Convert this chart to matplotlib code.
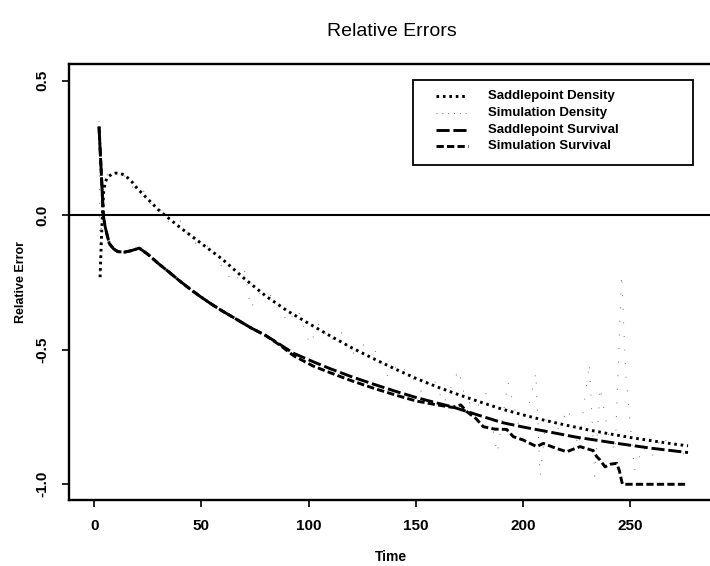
import matplotlib
matplotlib.use('Agg')
import matplotlib.pyplot as plt
from matplotlib.lines import Line2D
from matplotlib.patches import Rectangle

plt.rcParams['font.family'] = ['Liberation Sans', 'DejaVu Sans']

# Data

sp_dens_t = [2.7, 3.5, 4.3, 5, 6, 8, 10, 12, 14, 17, 20, 25, 30, 33, 40, 50, 60,
             70, 80, 90, 100, 110, 120, 130, 140, 150, 160, 170, 180, 190, 200,
             210, 220, 230, 240, 250, 260, 270, 277]
sp_dens = [-0.23, -0.05, 0.08, 0.12, 0.14, 0.152, 0.157, 0.156, 0.15, 0.13, 0.10,
           0.06, 0.02, 0.0, -0.045, -0.105, -0.165, -0.235, -0.3, -0.355, -0.402,
           -0.448, -0.492, -0.532, -0.57, -0.606, -0.638, -0.667, -0.694, -0.72,
           -0.742, -0.762, -0.78, -0.797, -0.812, -0.826, -0.838, -0.85, -0.857]

sim_dens_t = [2.2, 2.7, 3.5, 4.5, 6, 8, 10, 13, 16, 19.8, 23, 27, 31, 35, 40, 45,
              50, 55, 60, 65, 70, 73, 78, 85, 90, 95, 100.6, 105, 110, 115, 120,
              125, 132, 137, 142, 148, 153, 158, 163, 170, 173, 178, 183, 188, 193,
              198, 203, 206, 208, 211, 216, 221, 226, 231, 233.5, 236, 240, 243,
              246, 248, 252, 256, 260, 265, 270, 274, 277]
sim_dens = [0.35, -0.23, 0.05, 0.12, 0.15, 0.175, 0.15, 0.16, 0.12, 0.088, 0.09,
            0.03, 0.02, -0.03, -0.02, -0.09, -0.12, -0.11, -0.2, -0.25, -0.2,
            -0.345, -0.28, -0.31, -0.4, -0.35, -0.48, -0.4, -0.47, -0.43, -0.52,
            -0.48, -0.51, -0.6, -0.55, -0.6, -0.66, -0.6, -0.7, -0.575, -0.68,
            -0.72, -0.66, -0.885, -0.62, -0.78, -0.7, -0.585, -0.97, -0.74, -0.8,
            -0.72, -0.86, -0.55, -0.97, -0.64, -0.82, -0.88, -0.22, -0.59, -0.95,
            -0.86, -0.9, -0.82, -0.87, -0.9, -0.86]

sp_surv_t = [2.2, 3.0, 3.5, 4.2, 5, 5.8, 7, 9, 11, 14, 17, 21, 25, 30, 35, 40, 45,
             50, 55, 60, 66, 73, 80, 87, 93, 102, 110, 120, 130, 140, 150, 160,
             167, 180, 190, 200, 212, 225, 244, 260, 277]
sp_surv = [0.33, 0.2, 0.12, 0.0, -0.04, -0.067, -0.105, -0.125, -0.135, -0.137,
           -0.132, -0.122, -0.145, -0.18, -0.212, -0.245, -0.276, -0.305, -0.332,
           -0.357, -0.385, -0.418, -0.447, -0.482, -0.513, -0.544, -0.57, -0.6,
           -0.627, -0.653, -0.677, -0.698, -0.712, -0.745, -0.77, -0.787, -0.805,
           -0.825, -0.848, -0.866, -0.882]

sim_surv_t = [2.2, 3.0, 3.5, 4.2, 5, 5.8, 7, 9, 11, 14, 17, 21, 25, 30, 35, 40, 45,
              50, 55, 60, 66, 73, 80, 87, 93, 102, 110, 120, 130, 140, 150, 160,
              167, 171, 173.8, 178, 181.5, 187, 192.4, 195.5, 200, 206.4, 209.5,
              215, 220.4, 226.6, 230, 232.8, 234.4, 236, 238.3, 241, 243.8, 245,
              246.1, 246.5, 277]
sim_surv = [0.33, 0.2, 0.12, 0.0, -0.04, -0.067, -0.105, -0.125, -0.135, -0.137,
            -0.132, -0.122, -0.145, -0.18, -0.212, -0.245, -0.276, -0.305, -0.332,
            -0.357, -0.385, -0.418, -0.447, -0.485, -0.522, -0.56, -0.585, -0.615,
            -0.642, -0.667, -0.69, -0.705, -0.714, -0.705, -0.73, -0.755, -0.786,
            -0.795, -0.796, -0.823, -0.835, -0.86, -0.848, -0.865, -0.879, -0.86,
            -0.868, -0.875, -0.897, -0.91, -0.935, -0.925, -0.922, -0.95, -0.99,
            -1.0, -1.0]

labels = ['Saddlepoint Density', 'Simulation Density',
          'Saddlepoint Survival', 'Simulation Survival']

# Styles
st_sp_dens = dict(color='black', lw=2.1, ls=(0, (0.9, 1.3)))
st_sim_dens = dict(color='#6e6e6e', lw=0.7, ls=(0, (1, 13)))
st_sp_surv = dict(color='black', lw=2.1, ls=(0, (4.5, 1.3)))
st_sim_surv = dict(color='black', lw=2.1, ls=(0, (2.5, 1.1)))
styles = [st_sp_dens, dict(st_sim_dens, ls=(0, (1, 5))), st_sp_surv, st_sim_surv]

# Plot

W, H = 710, 566
fig = plt.figure(figsize=(W / 100, H / 100), dpi=100)
ax = fig.add_axes([69 / W, 66 / H, 643 / W, 436 / H])

ax.plot(sim_dens_t, sim_dens, **st_sim_dens)
ax.plot(sp_dens_t, sp_dens, **st_sp_dens)
ax.plot(sp_surv_t, sp_surv, **st_sp_surv)
ax.plot(sim_surv_t, sim_surv, **st_sim_surv)
ax.axhline(0, color='black', lw=1.5)

ax.set_xlim(-11.8, 288.2)
ax.set_ylim(-1.0584, 0.5625)
ax.set_xticks([0, 50, 100, 150, 200, 250])
ax.set_yticks([-1.0, -0.5, 0.0, 0.5])
ax.set_yticklabels(['-1.0', '-0.5', '0.0', '0.5'], rotation=90, va='center')
ax.tick_params(direction='out', length=5, width=1.2, labelsize=11, pad=9)
for lab in ax.get_xticklabels() + ax.get_yticklabels():
    lab.set_fontweight('bold')
for sp in ax.spines.values():
    sp.set_linewidth(1.7)

ax.set_xlabel('Time', fontsize=10, fontweight='bold', labelpad=12)
ax.set_ylabel('Relative Error', fontsize=9, fontweight='bold', labelpad=6)
fig.text(392 / W, 1 - 31 / H, 'Relative Errors', ha='center', va='center', fontsize=14)

# Legend box drawn in figure pixels like the R original
def fx(px):
    return px / W

def fy(py):
    return 1 - py / H

fig.add_artist(Rectangle((fx(413), fy(165)), fx(693) - fx(413), fy(80) - fy(165),
                         transform=fig.transFigure, fill=False, lw=1.3, ec='black'))
rows = [96, 113, 130, 146]
for row, lab, st in zip(rows, labels, styles):
    fig.add_artist(Line2D([fx(436), fx(468)], [fy(row), fy(row)],
                          transform=fig.transFigure, **st))
    fig.text(fx(488), fy(row), lab, ha='left', va='center', fontsize=9.5,
             fontweight='bold')

plt.savefig('out.png', dpi=100)
plt.close()
